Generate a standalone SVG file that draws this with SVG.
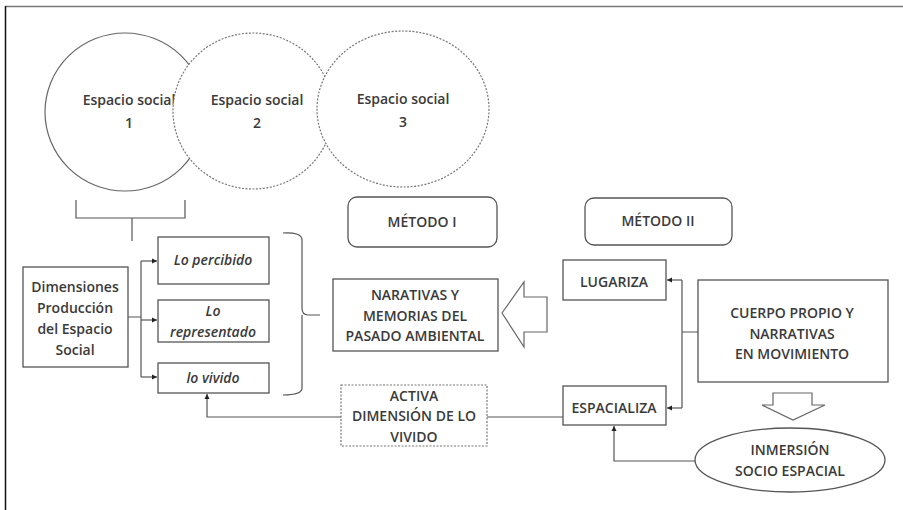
<svg xmlns="http://www.w3.org/2000/svg" width="903" height="510" viewBox="0 0 903 510">
<defs>
<style>
.t{font-family:"Open Sans","Liberation Sans",sans-serif;font-size:14px;font-weight:600;fill:#3a3a3a;text-anchor:middle}
.i{font-style:italic}
.b{fill:#fff;stroke:#555;stroke-width:1.3}
.d{stroke:#777;stroke-width:1.2;stroke-dasharray:2 1.5}
.c{fill:none;stroke:#555;stroke-width:1.2}
</style>
<marker id="ah" markerWidth="6" markerHeight="6" refX="5" refY="3" orient="auto" markerUnits="userSpaceOnUse">
<path d="M0,0.5 L5,3 L0,5.5 Z" fill="#222"/>
</marker>
</defs>
<rect x="0" y="0" width="903" height="510" fill="#fff"/>
<line x1="5" y1="6.5" x2="903" y2="6.5" stroke="#777" stroke-width="1.5"/>
<line x1="5.5" y1="6" x2="5.5" y2="510" stroke="#111" stroke-width="1.5"/>

<g id="circle1"><ellipse cx="125" cy="112" rx="80" ry="79" fill="#fff" stroke="#666" stroke-width="1.2"/><text class="t" x="129" y="105">Espacio social</text><text class="t" x="129" y="128">1</text></g>
<g id="circle2"><ellipse cx="253" cy="111" rx="80" ry="78" fill="#fff" class="d"/><text class="t" x="257" y="105">Espacio social</text><text class="t" x="257" y="128">2</text></g>
<g id="circle3"><ellipse cx="403" cy="109" rx="86" ry="78" fill="#fff" class="d"/><text class="t" x="403" y="104">Espacio social</text><text class="t" x="403" y="127">3</text></g>

<g id="bracket1"><path class="c" d="M76,200 V218 H185 V200 M132,218 V241"/></g>

<g id="dimensiones"><rect class="b" x="23" y="267" width="105" height="100"/><text class="t" x="75" y="292">Dimensiones</text><text class="t" x="75" y="313">Producción</text><text class="t" x="75" y="334">del Espacio</text><text class="t" x="75" y="355">Social</text></g>
<g id="percibido"><rect class="b" x="158" y="237" width="111" height="47"/><text class="t i" x="213" y="265">Lo percibido</text></g>
<g id="representado"><rect class="b" x="158" y="300" width="111" height="42"/><text class="t i" x="213" y="316">Lo</text><text class="t i" x="213" y="337">representado</text></g>
<g id="vivido"><rect class="b" x="158" y="363" width="111" height="30"/><text class="t i" x="213" y="383">lo vivido</text></g>

<g id="brace2"><path class="c" d="M283,233 Q302,232 302,240 V308 Q302,315 308,315 H320 M302,315 V388 Q302,395 283,395"/></g>

<g id="metodo1"><rect class="b" x="348" y="197" width="149" height="50" rx="9"/><text class="t" x="422" y="227">MÉTODO I</text></g>
<g id="narrativas"><rect class="b" x="333" y="279" width="165" height="72"/><text class="t" x="415" y="300">NARATIVAS Y</text><text class="t" x="415" y="321">MEMORIAS DEL</text><text class="t" x="415" y="341">PASADO AMBIENTAL</text></g>
<g id="bigarrow"><path d="M502,313 L524,282 V297 H547 V332 H524 V347 Z" fill="#fff" stroke="#666" stroke-width="1.2"/></g>
<g id="activa"><rect x="341" y="385" width="146" height="61" fill="#fff" stroke="#777" stroke-width="1.2" stroke-dasharray="2 1.5"/><text class="t" x="414" y="401">ACTIVA</text><text class="t" x="414" y="421">DIMENSIÓN DE LO</text><text class="t" x="414" y="442">VIVIDO</text></g>

<g id="metodo2"><rect class="b" x="585" y="198" width="147" height="47" rx="9"/><text class="t" x="658" y="226">MÉTODO II</text></g>
<g id="lugariza"><rect class="b" x="563" y="260" width="103" height="40"/><text class="t" x="614" y="287">LUGARIZA</text></g>
<g id="espacializa"><rect class="b" x="563" y="386" width="103" height="39"/><text class="t" x="614" y="413">ESPACIALIZA</text></g>
<g id="cuerpo"><rect class="b" x="698" y="280" width="190" height="102"/><text class="t" x="792" y="318">CUERPO PROPIO Y</text><text class="t" x="792" y="339">NARRATIVAS</text><text class="t" x="792" y="359">EN MOVIMIENTO</text></g>
<g id="downarrow"><path d="M773,393 H812 V405 H825 L793,420 L762,405 H773 Z" fill="#fff" stroke="#666" stroke-width="1.2"/></g>
<g id="inmersion"><ellipse cx="790" cy="460" rx="95" ry="32" class="b"/><text class="t" x="790" y="455">INMERSIÓN</text><text class="t" x="790" y="476">SOCIO ESPACIAL</text></g>

<g id="connectors">
<path class="c" d="M128,317 H141 M141,261 V377"/>
<path class="c" d="M141,261 H157" marker-end="url(#ah)"/>
<path class="c" d="M141,320 H157" marker-end="url(#ah)"/>
<path class="c" d="M141,377 H157" marker-end="url(#ah)"/>
<path class="c" d="M341,417 H207 V394" marker-end="url(#ah)" stroke="#777"/>
<path class="c" d="M487,417 H563"/>
<path class="c" d="M698,332 H682 M682,280 V408"/>
<path class="c" d="M682,280 H667" marker-end="url(#ah)"/>
<path class="c" d="M682,408 H667" marker-end="url(#ah)"/>
<path class="c" d="M695,461 H614 V426" marker-end="url(#ah)"/>
</g>
</svg>
